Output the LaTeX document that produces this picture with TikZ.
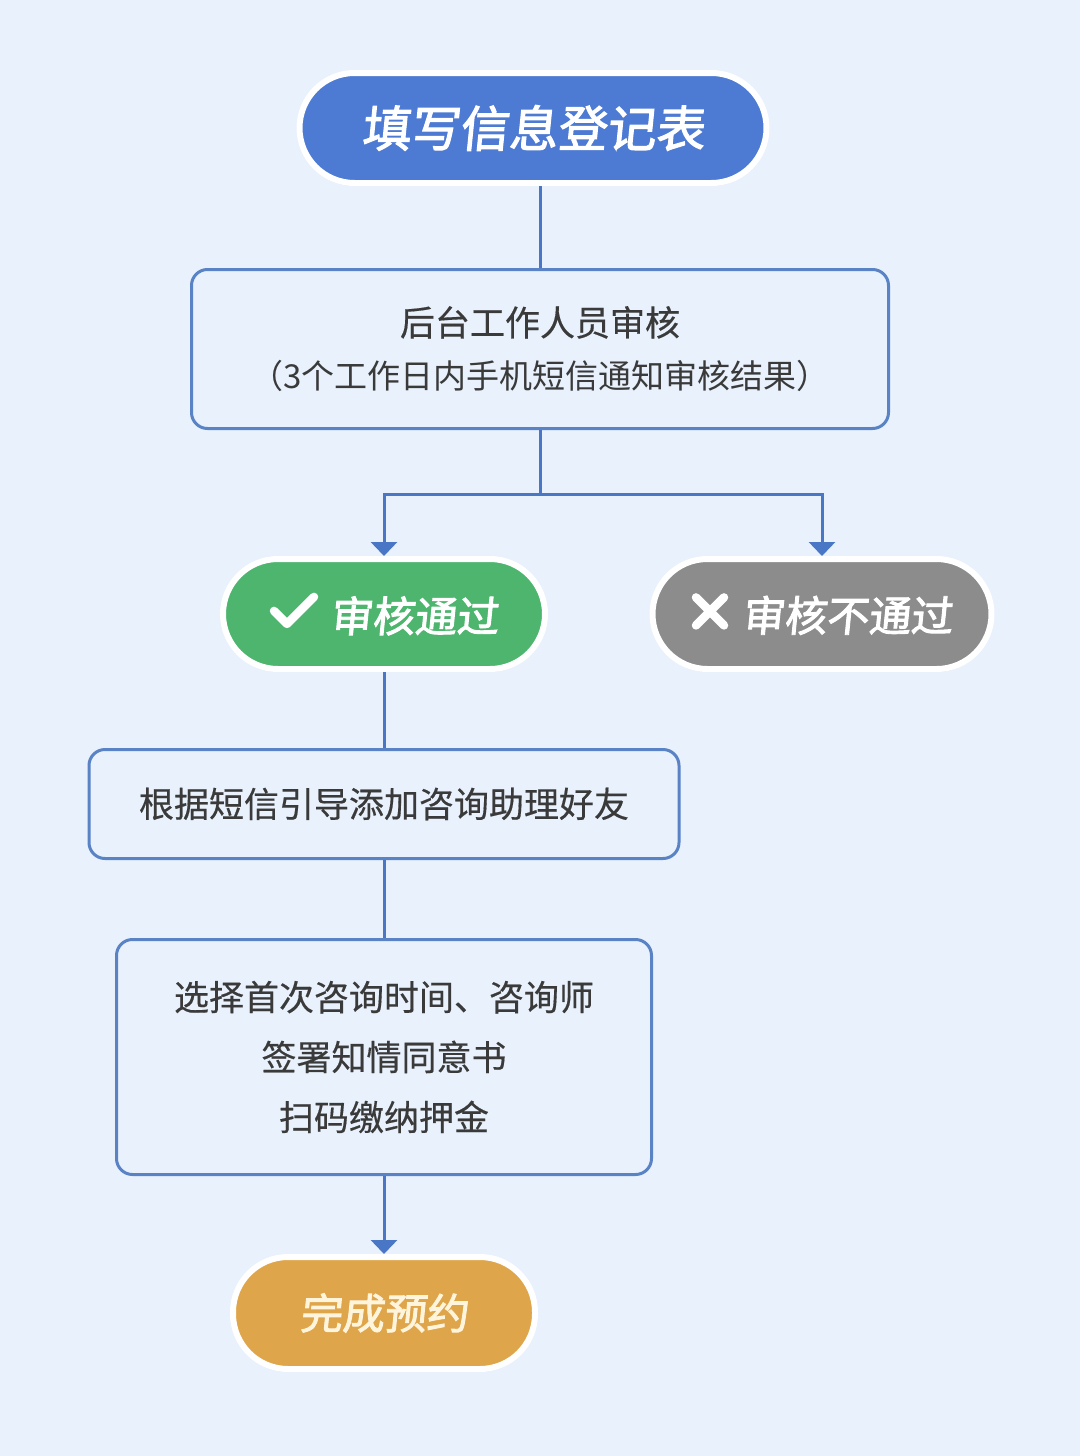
\documentclass[tikz,border=0pt]{standalone}
\usepackage{fontspec}
\usetikzlibrary{arrows.meta,shadows}
\newfontfamily\cjk[FakeBold=0.4]{Noto Sans CJK SC}
\newfontfamily\cjklight{Noto Sans CJK SC}
\newfontfamily\pillfont[FakeSlant=0.1,FakeBold=2.2]{Noto Sans CJK SC}
\definecolor{bgc}{HTML}{E8F1FC}
\definecolor{linec}{HTML}{4A76C6}
\definecolor{boxc}{HTML}{5A83C6}
\definecolor{bluep}{HTML}{4D7BD3}
\definecolor{greenp}{HTML}{4DB56E}
\definecolor{grayp}{HTML}{8C8C8C}
\definecolor{orangep}{HTML}{DFA54A}
\definecolor{creamt}{HTML}{FFF4DC}
\definecolor{txt}{HTML}{3A3A3A}
\newcommand\chkmark{\tikz[x=1pt,y=1pt,baseline=-6pt,sharp corners]\draw[white,line width=8.5pt,line cap=round,line join=round,sharp corners] (0,15) -- (13,2) -- (40,29);}
\newcommand\crossmark{\tikz[x=1pt,y=1pt,baseline=-6pt,sharp corners]\draw[white,line width=8.5pt,line cap=round,sharp corners] (0,0) -- (28,28) (0,28) -- (28,0);}
\begin{document}
\begin{tikzpicture}[x=1pt,y=-1pt,
  pill/.style={draw=white,line width=6pt,rounded corners=55pt,minimum height=110pt,
    inner sep=0pt,text=white,
    drop shadow={opacity=0.12,shadow xshift=0pt,shadow yshift=-3pt}},
  box/.style={draw=boxc,line width=3pt,rounded corners=16pt,fill=bgc,inner sep=0pt,
    text=txt,align=center},
  conn/.style={draw=linec,line width=3pt},
  arr/.style={conn,-{Triangle[width=26pt,length=14pt]}}]
\useasboundingbox[fill=bgc] (0,0) rectangle (1080,1456);

\node[pill,fill=bluep,minimum width=467pt,font={\pillfont\fontsize{49}{49}\selectfont}]
  (top) at (533,128) {填写信息登记表};

\node[box,minimum width=697pt,minimum height=159pt,
  font={\cjk\fontsize{35}{53}\selectfont}] (review) at (540,349)
  {后台工作人员审核\\
   {\cjklight\fontsize{33}{53}\selectfont （3个工作日内手机短信通知审核结果）}};

\node[pill,fill=greenp,minimum width=322pt,font={\pillfont\fontsize{42}{42}\selectfont}]
  (pass) at (384,614) {\chkmark\hspace{12pt}审核通过\hspace{10pt}};

\node[pill,fill=grayp,minimum width=339pt,font={\pillfont\fontsize{42}{42}\selectfont}]
  (fail) at (822,614) {\crossmark\hspace{14pt}审核不通过};

\node[box,minimum width=590pt,minimum height=109pt,
  font={\cjk\fontsize{35}{35}\selectfont}] (friend) at (384,804) {根据短信引导添加咨询助理好友};

\node[box,minimum width=535pt,minimum height=235pt,
  font={\cjk\fontsize{35}{60}\selectfont}] (choose) at (384,1057)
  {选择首次咨询时间、咨询师\\签署知情同意书\\扫码缴纳押金};

\node[pill,fill=orangep,minimum width=302pt,minimum height=112pt,text=creamt,
  font={\pillfont\fontsize{42}{42}\selectfont}] (done) at (384,1313) {完成预约};

\coordinate (split) at (540,494);
\draw[conn] (top.south -| review.north) -- (review.north);
\draw[conn] (review.south) -- (split);
\draw[arr] (split) -| (pass.north);
\draw[arr] (split) -| (fail.north);
\draw[conn] (pass.south) -- (friend.north);
\draw[conn] (friend.south) -- (choose.north);
\draw[arr] (choose.south) -- (done.north);
\end{tikzpicture}
\end{document}
